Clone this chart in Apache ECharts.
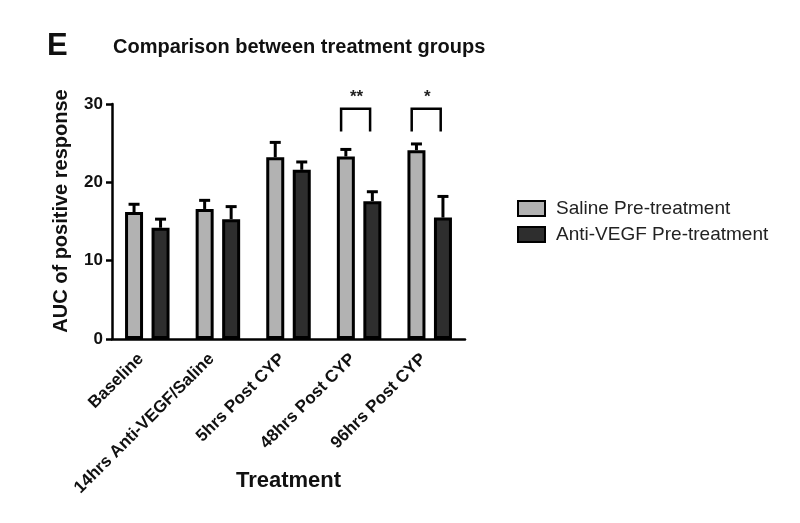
<!DOCTYPE html>
<html><head><meta charset="utf-8">
<script src="https://cdn.jsdelivr.net/npm/echarts@6/dist/echarts.min.js"></script>
<style>html,body{margin:0;padding:0;background:#fff}#c{width:800px;height:523px}</style>
</head><body><div id="c"></div>
<script>
const categories = ['Baseline', '14hrs Anti-VEGF/Saline', '5hrs Post CYP', '48hrs Post CYP', '96hrs Post CYP'];
const seriesNames = ['Saline Pre-treatment', 'Anti-VEGF Pre-treatment'];
const salineMean = [16.2, 16.6, 23.2, 23.3, 24.1];
const salineUpper = [17.2, 17.7, 25.1, 24.2, 24.9];
const antiMean = [14.2, 15.3, 21.6, 17.6, 15.5];
const antiUpper = [15.3, 16.9, 22.6, 18.8, 18.2];
const sigCategories = [3, 4];
const sigLabels = ['**', '*'];
const sigBottom = [26.5, 26.5];
const sigTop = [29.4, 29.4];
const yTicks = [0, 10, 20, 30];

const FONT = 'Liberation Sans, Arial, Helvetica, sans-serif';
const BAR_W = 18, BAR_GAP = 8.5, LW = 2.5, BW = 3;
const OFF = (BAR_W + BAR_GAP) / 2;

function errRender(offset) {
  return function (params, api) {
    const i = api.value(0);
    const p0 = api.coord([i, api.value(1)]);
    const p1 = api.coord([i, api.value(2)]);
    const cx = p0[0] + offset;
    const st = { stroke: '#000', lineWidth: BW };
    return { type: 'group', children: [
      { type: 'line', shape: { x1: cx, y1: p0[1], x2: cx, y2: p1[1] }, style: st },
      { type: 'line', shape: { x1: cx - 5.5, y1: p1[1], x2: cx + 5.5, y2: p1[1] }, style: st }
    ]};
  };
}

function sigRender(params, api) {
  const i = api.value(0);
  const b = api.coord([i, api.value(1)]);
  const t = api.coord([i, api.value(2)]);
  const xl = b[0] - 18, xr = b[0] + 11;
  return { type: 'group', children: [
    { type: 'polyline', shape: { points: [[xl, b[1]], [xl, t[1]], [xr, t[1]], [xr, b[1]]] },
      style: { stroke: '#000', lineWidth: LW, fill: null } },
    { type: 'text', x: (xl + xr) / 2 + 1, y: t[1] - 3,
      style: { text: sigLabels[params.dataIndex], font: 'bold 17px ' + FONT, fill: '#222',
               textAlign: 'center', textVerticalAlign: 'bottom' } }
  ]};
}

const chart = echarts.init(document.getElementById('c'));
chart.setOption({
  backgroundColor: '#fff',
  animation: false,
  title: { text: 'Comparison between treatment groups', left: 108, top: 32,
    textStyle: { fontFamily: FONT, fontWeight: 'bold', fontSize: 20, color: '#111' } },
  graphic: [
    { type: 'text', left: 47, top: 31, style: { text: 'E', font: 'bold 31px ' + FONT, fill: '#111' } },
    { type: 'text', x: 61, y: 211, rotation: Math.PI / 2,
      style: { text: 'AUC of positive response', font: 'bold 20px ' + FONT, fill: '#111',
               textAlign: 'center', textVerticalAlign: 'middle' } }
  ],
  legend: {
    orient: 'vertical', left: 517, top: 199, padding: 0, itemWidth: 27, itemHeight: 15, itemGap: 7,
    icon: 'rect',
    data: seriesNames,
    textStyle: { fontFamily: FONT, fontSize: 19, color: '#222', padding: [0, 0, 0, 6] }
  },
  grid: { left: 112, right: 335, top: 104, bottom: 184 },
  xAxis: {
    type: 'category', data: categories,
    name: 'Treatment', nameLocation: 'middle', nameGap: 131, nameMoveOverlap: false,
    nameTextStyle: { fontFamily: FONT, fontWeight: 'bold', fontSize: 22, color: '#111' },
    axisLine: { lineStyle: { color: '#000', width: LW } },
    axisTick: { alignWithLabel: true, length: 6, lineStyle: { color: '#000', width: LW } },
    axisLabel: { rotate: 45, interval: 0, margin: 11, padding: [0, 9, 0, 0],
      fontFamily: FONT, fontWeight: 'bold', fontSize: 17, color: '#111' }
  },
  yAxis: {
    type: 'value', min: yTicks[0], max: yTicks[yTicks.length - 1], interval: 10,
    splitLine: { show: false },
    axisLine: { show: true, lineStyle: { color: '#000', width: LW } },
    axisTick: { show: true, length: 6, lineStyle: { color: '#000', width: LW } },
    axisLabel: { margin: 9, fontFamily: FONT, fontWeight: 'bold', fontSize: 17, color: '#111' }
  },
  series: [
    { name: seriesNames[0], type: 'bar', data: salineMean, barWidth: BAR_W, barGap: (BAR_GAP / BAR_W * 100) + '%',
      itemStyle: { color: '#b2b2b2', borderColor: '#000', borderWidth: BW }, z: 3 },
    { name: seriesNames[1], type: 'bar', data: antiMean, barWidth: BAR_W,
      itemStyle: { color: '#2e2e2e', borderColor: '#000', borderWidth: BW }, z: 3 },
    { name: 'errS', type: 'custom', renderItem: errRender(-OFF), z: 2,
      data: categories.map((c, i) => [i, salineMean[i], salineUpper[i]]) },
    { name: 'errA', type: 'custom', renderItem: errRender(OFF), z: 2,
      data: categories.map((c, i) => [i, antiMean[i], antiUpper[i]]) },
    { name: 'sig', type: 'custom', renderItem: sigRender, z: 4,
      data: sigCategories.map((c, k) => [c, sigBottom[k], sigTop[k]]) }
  ]
});
</script></body></html>
